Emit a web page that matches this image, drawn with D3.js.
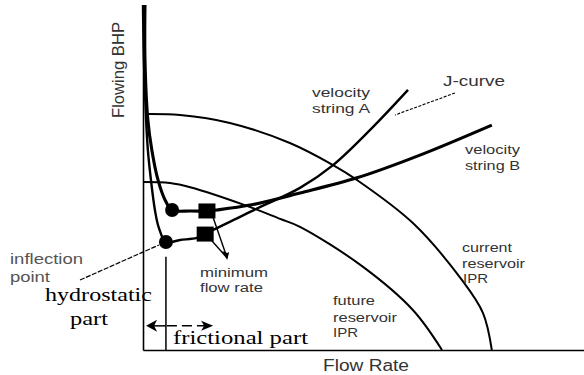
<!DOCTYPE html>
<html>
<head>
<meta charset="utf-8">
<script src="https://cdn.jsdelivr.net/npm/d3@7"></script>
<style>
  html, body { margin: 0; padding: 0; background: #fff; }
  svg { display: block; }
</style>
</head>
<body>
<svg id="chart" width="584" height="375"></svg>
<script>
// Flow rate and flowing BHP, both on a relative 0–100 scale.

// Current reservoir inflow performance (IPR)
const currentIprQ = [0.9, 8.4, 19.7, 33.3, 43.1, 48.5, 61.2, 72.3, 77.1, 79.1];
const currentIprP = [68.4, 68.1, 65.8, 60.0, 53.6, 49.3, 36.8, 20.3, 10.7, 0];

// Future (depleted) reservoir IPR
const futureIprQ = [0.2, 6.1, 10.7, 23.1, 31.1, 35.6, 49.9, 61.2, 67.8];
const futureIprP = [48.7, 48.4, 47.2, 42.0, 38.0, 35.7, 24.1, 11.6, 0];

// Tubing performance (J-curve), velocity string A
const stringAQ = [0, 0.2, 0.7, 1.1, 1.8, 2.7, 3.6, 5.2, 8.4, 12.2, 14.1, 15.9, 22.0, 26.5, 35.6, 43.1, 51.5, 60.1];
const stringAP = [100, 84.1, 66.7, 58.0, 49.3, 40.6, 35.4, 31.3, 31.9, 32.5, 33.6, 34.8, 38.6, 41.4, 47.0, 53.6, 63.8, 75.4];

// Tubing performance (J-curve), velocity string B
const stringBQ = [0.45, 0.45, 1.1, 2.0, 3.4, 5.0, 6.6, 10.7, 14.5, 16.8, 24.3, 35.6, 48.5, 62.8, 79.1];
const stringBP = [100, 84.1, 66.7, 58.0, 49.3, 43.5, 40.6, 40.3, 40.3, 40.6, 42.0, 45.5, 49.9, 56.5, 65.2];

// Inflection points (A, B) and minimum stable flow rates (A, B)
const inflectionQ = [5.2, 6.6];
const inflectionP = [31.3, 40.6];
const minRateQ = [14.1, 14.5];
const minRateP = [33.6, 40.3];

// Split between hydrostatic- and friction-dominated flow
const boundaryQ = 5.2;
const boundaryTopP = 27.0;
const arrowP = 7.0;
const arrowQ = [0.7, 15.9];

const zip = (a, b) => a.map((v, i) => [v, b[i]]);

const svg = d3.select("#chart");
const x = d3.scaleLinear().domain([0, 100]).range([143, 584]);
const y = d3.scaleLinear().domain([0, 100]).range([350, 5]);

const line = d3.line()
  .x(d => x(d[0]))
  .y(d => y(d[1]))
  .curve(d3.curveCatmullRom.alpha(0.5));

// Axes: bare lines, no ticks
const xAxis = svg.append("g").attr("transform", `translate(0,${y(0)})`)
  .call(d3.axisBottom(x).ticks(0).tickSizeOuter(0));
const yAxis = svg.append("g").attr("transform", `translate(${x(0)},0)`)
  .call(d3.axisLeft(y).ticks(0).tickSizeOuter(0));
svg.selectAll(".domain").attr("stroke", "#000").attr("stroke-width", 1.6);

// Hydrostatic / frictional boundary
svg.append("line")
  .attr("x1", x(boundaryQ)).attr("x2", x(boundaryQ))
  .attr("y1", y(boundaryTopP)).attr("y2", y(0))
  .attr("stroke", "#000").attr("stroke-width", 1.5);

// IPR curves
[[currentIprQ, currentIprP], [futureIprQ, futureIprP]].forEach(([q, p]) => {
  svg.append("path")
    .attr("d", line(zip(q, p)))
    .attr("fill", "none").attr("stroke", "#000").attr("stroke-width", 2);
});

// J-curves
svg.append("path").attr("d", line(zip(stringAQ, stringAP)))
  .attr("fill", "none").attr("stroke", "#000").attr("stroke-width", 2.4)
  .attr("stroke-linejoin", "round");
svg.append("path").attr("d", line(zip(stringBQ, stringBP)))
  .attr("fill", "none").attr("stroke", "#000").attr("stroke-width", 3.1)
  .attr("stroke-linejoin", "round");

// Leader lines: minimum flow rate
const minTip = [x(minRateQ[0]) + 22, y(minRateP[0]) + 24];
minRateQ.forEach((q, i) => {
  svg.append("line")
    .attr("x1", x(q) + 6).attr("y1", y(minRateP[i]) + 6)
    .attr("x2", minTip[0]).attr("y2", minTip[1])
    .attr("stroke", "#000").attr("stroke-width", 1.4);
});
svg.append("path")
  .attr("d", `M${minTip[0]},${minTip[1] + 2} l-5,-9 l5,2 l2,-1 z`)
  .attr("fill", "#000");

// Markers
svg.selectAll("circle.inf").data(zip(inflectionQ, inflectionP)).join("circle")
  .attr("class", "inf")
  .attr("cx", d => x(d[0])).attr("cy", d => y(d[1])).attr("r", 7)
  .attr("fill", "#000");
svg.selectAll("rect.min").data(zip(minRateQ, minRateP)).join("rect")
  .attr("class", "min")
  .attr("x", d => x(d[0]) - 8.5).attr("y", d => y(d[1]) - 7.5)
  .attr("width", 17).attr("height", 15)
  .attr("fill", "#000");

// Leader: inflection point
svg.append("line")
  .attr("x1", 80).attr("y1", 280)
  .attr("x2", x(inflectionQ[0]) - 7).attr("y2", y(inflectionP[0]) + 3)
  .attr("stroke", "#000").attr("stroke-width", 1.2)
  .attr("stroke-dasharray", "5,1.5");

// Leader: J-curve label to string A
svg.append("line")
  .attr("x1", 455).attr("y1", 93).attr("x2", 395).attr("y2", 115)
  .attr("stroke", "#000").attr("stroke-width", 1.1)
  .attr("stroke-dasharray", "3,1.5");

// Hydrostatic / frictional double arrow
const ay = y(arrowP);
const ax0 = x(arrowQ[0]), ax1 = x(arrowQ[1]);
svg.append("line")
  .attr("x1", ax0 + 4).attr("x2", x(boundaryQ)).attr("y1", ay).attr("y2", ay)
  .attr("stroke", "#000").attr("stroke-width", 1.5);
svg.append("line")
  .attr("x1", x(boundaryQ) + 1).attr("x2", ax1 - 8).attr("y1", ay).attr("y2", ay)
  .attr("stroke", "#000").attr("stroke-width", 1.5)
  .attr("stroke-dasharray", "10,5");
svg.append("path")
  .attr("d", `M${ax0},${ay} l11,-6 l-3,6 l3,6 z`).attr("fill", "#000");
svg.append("path")
  .attr("d", `M${ax1},${ay} l-12,-5 l3,5 l-3,5 z`).attr("fill", "#000");

// Labels
const sans = "'Liberation Sans', Arial, sans-serif";
const serif = "'Liberation Serif', 'Times New Roman', serif";
const labels = [
  { t: "velocity", x: 312, y: 97, w: 58, s: 12.5 },
  { t: "string A", x: 312, y: 113, w: 58, s: 12.5 },
  { t: "J-curve", x: 443, y: 86, w: 62, s: 14 },
  { t: "velocity", x: 465, y: 154, w: 55, s: 12.5 },
  { t: "string B", x: 465, y: 170, w: 55, s: 12.5 },
  { t: "current", x: 462, y: 252, w: 50, s: 13 },
  { t: "reservoir", x: 462, y: 268, w: 63, s: 13 },
  { t: "IPR", x: 463, y: 283, w: 25, s: 13.5 },
  { t: "future", x: 333, y: 305, w: 42, s: 13 },
  { t: "reservoir", x: 333, y: 322, w: 64, s: 13 },
  { t: "IPR", x: 333, y: 337, w: 25, s: 13.5 },
  { t: "minimum", x: 200, y: 277, w: 68, s: 12.5 },
  { t: "flow rate", x: 200, y: 292, w: 63, s: 12.5 },
  { t: "inflection", x: 10, y: 264, w: 73, s: 14, c: "#555" },
  { t: "point", x: 10, y: 282, w: 40, s: 14, c: "#555" },
  { t: "Flow Rate", x: 323, y: 371, w: 86, s: 16 },
  { t: "hydrostatic", x: 45, y: 301, w: 107, s: 19, f: serif, c: "#000" },
  { t: "part", x: 70, y: 325, w: 38, s: 19, f: serif, c: "#000" },
  { t: "frictional part", x: 173, y: 344, w: 135, s: 19, f: serif, c: "#000" }
];
svg.selectAll("text.lbl").data(labels).join("text")
  .attr("class", "lbl")
  .attr("x", d => d.x).attr("y", d => d.y)
  .attr("font-family", d => d.f || sans)
  .attr("font-size", d => d.s)
  .attr("fill", d => d.c || "#333")
  .attr("textLength", d => d.w)
  .attr("lengthAdjust", "spacingAndGlyphs")
  .text(d => d.t);

svg.append("text")
  .attr("transform", "translate(124,118) rotate(-90)")
  .attr("font-family", sans).attr("font-size", 16).attr("fill", "#333")
  .attr("textLength", 96).attr("lengthAdjust", "spacingAndGlyphs")
  .text("Flowing BHP");
</script>
</body>
</html>
